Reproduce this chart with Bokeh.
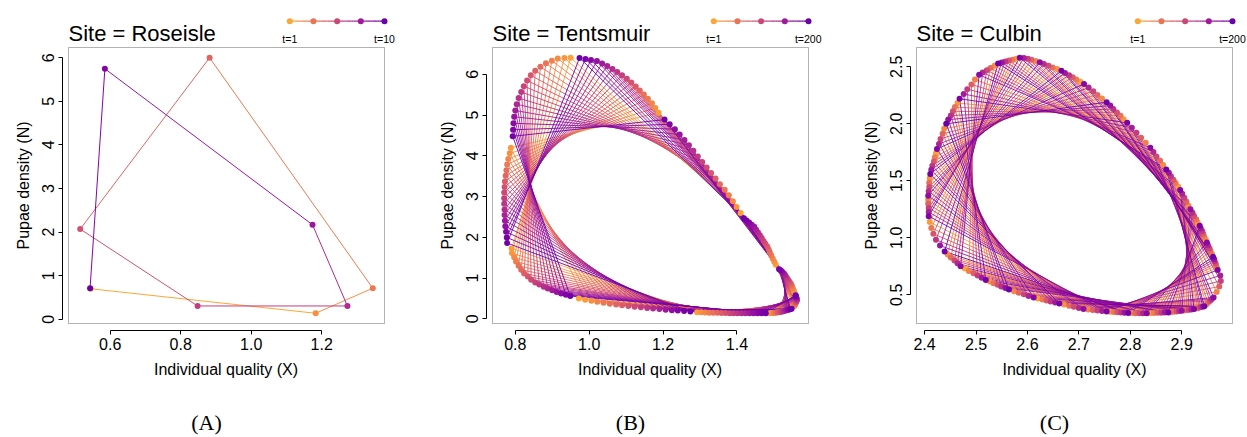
import numpy as np
from bokeh.plotting import figure
from bokeh.models import (Range1d, FixedTicker, NumeralTickFormatter, Title,
                          BoxAnnotation, ColumnDataSource)
from bokeh.layouts import row
from bokeh.palettes import Plasma256
from bokeh.embed import file_html
from bokeh.resources import INLINE
from bokeh.core.properties import value

# ---------------- Panel A : Roseisle (t = 1..10) ----------------
roseisle_t = [1, 2, 3, 4, 5, 6, 7, 8, 9, 10]
roseisle_x = [0.545, 1.183, 1.345, 0.882, 0.515, 0.848, 1.273, 1.174, 0.585, 0.543]
roseisle_y = [0.700, 0.138, 0.713, 6.000, 2.069, 0.306, 0.306, 2.168, 5.747, 0.713]

# ---------------- Panel B : Tentsmuir (t = 1..200) ----------------
# dots read along the cycle (counter-clockwise), with the time step of each dot
tents_x = [
    0.790, 0.791, 0.797, 0.802, 0.809, 0.816, 0.824, 0.834, 0.843, 0.854, 0.865, 0.877, 0.888, 0.900, 0.912, 0.924, 0.937, 0.949,
    0.972, 0.989, 1.006, 1.022, 1.039, 1.056, 1.073, 1.089, 1.106, 1.123, 1.140, 1.157, 1.173, 1.190, 1.207, 1.224, 1.240, 1.257, 1.274,
    1.292, 1.303, 1.314, 1.325, 1.336, 1.347, 1.358, 1.369, 1.380, 1.390, 1.401, 1.412, 1.423, 1.434, 1.445, 1.456, 1.467, 1.478,
    1.490, 1.493, 1.497, 1.500, 1.503, 1.507, 1.510, 1.513, 1.516, 1.520, 1.523, 1.526, 1.529, 1.532, 1.535, 1.538, 1.542, 1.545, 1.548,
    1.555, 1.556, 1.556, 1.557, 1.558, 1.559, 1.559, 1.560, 1.561, 1.562, 1.562, 1.562, 1.561, 1.561, 1.560, 1.560, 1.559, 1.559,
    1.556, 1.554, 1.552, 1.550, 1.549, 1.547, 1.545, 1.542, 1.540, 1.537, 1.535, 1.532, 1.530, 1.527, 1.524, 1.521, 1.518, 1.514,
    1.505, 1.501, 1.497, 1.493, 1.489, 1.486, 1.482, 1.477, 1.472, 1.467, 1.462, 1.457, 1.452, 1.447, 1.440, 1.433, 1.426, 1.419,
    1.410, 1.399, 1.389, 1.378, 1.367, 1.354, 1.342, 1.330, 1.318, 1.306, 1.294, 1.282, 1.270, 1.258, 1.245, 1.232, 1.218, 1.204,
    1.188, 1.179, 1.170, 1.159, 1.148, 1.137, 1.126, 1.114, 1.102, 1.089, 1.076, 1.063, 1.049, 1.035, 1.021, 1.005, 0.990, 0.974,
    0.950, 0.933, 0.915, 0.899, 0.883, 0.868, 0.854, 0.842, 0.832, 0.823, 0.816, 0.809, 0.804, 0.800, 0.797, 0.795, 0.794, 0.793,
    0.788, 0.785, 0.781, 0.778, 0.776, 0.774, 0.772, 0.771, 0.770, 0.770, 0.770, 0.771, 0.771, 0.772, 0.773, 0.775, 0.777, 0.778,
]
tents_y = [
    1.730, 1.614, 1.510, 1.406, 1.305, 1.209, 1.116, 1.038, 0.963, 0.894, 0.843, 0.792, 0.743, 0.703, 0.662, 0.624, 0.592, 0.560,
    0.500, 0.472, 0.445, 0.419, 0.396, 0.373, 0.352, 0.335, 0.317, 0.300, 0.285, 0.270, 0.256, 0.241, 0.227, 0.215, 0.205, 0.193, 0.180,
    0.165, 0.161, 0.157, 0.154, 0.150, 0.148, 0.146, 0.143, 0.141, 0.140, 0.139, 0.139, 0.138, 0.138, 0.139, 0.139, 0.140, 0.140,
    0.140, 0.144, 0.147, 0.151, 0.154, 0.158, 0.161, 0.165, 0.168, 0.174, 0.182, 0.191, 0.200, 0.208, 0.216, 0.225, 0.233, 0.242, 0.250,
    0.310, 0.326, 0.341, 0.357, 0.372, 0.388, 0.403, 0.419, 0.434, 0.450, 0.465, 0.482, 0.498, 0.515, 0.531, 0.547, 0.564, 0.580,
    0.650, 0.687, 0.725, 0.762, 0.799, 0.836, 0.873, 0.907, 0.943, 0.976, 1.011, 1.046, 1.079, 1.114, 1.141, 1.168, 1.193, 1.220,
    1.330, 1.404, 1.479, 1.554, 1.628, 1.703, 1.776, 1.846, 1.914, 1.984, 2.052, 2.122, 2.190, 2.260, 2.313, 2.366, 2.417, 2.470,
    2.600, 2.745, 2.889, 3.034, 3.172, 3.307, 3.443, 3.579, 3.714, 3.850, 3.987, 4.124, 4.260, 4.392, 4.524, 4.655, 4.775, 4.890,
    5.060, 5.177, 5.294, 5.401, 5.504, 5.605, 5.704, 5.798, 5.891, 5.981, 6.058, 6.135, 6.206, 6.268, 6.331, 6.356, 6.380, 6.405,
    6.409, 6.400, 6.391, 6.337, 6.272, 6.185, 6.088, 5.976, 5.849, 5.712, 5.568, 5.418, 5.269, 5.113, 4.960, 4.801, 4.641, 4.480,
    4.200, 4.062, 3.925, 3.787, 3.649, 3.512, 3.374, 3.237, 3.099, 2.961, 2.824, 2.686, 2.549, 2.411, 2.273, 2.136, 1.998, 1.860,
]
tents_t = [
    6, 17, 28, 39, 50, 61, 72, 83, 94, 105, 116, 127, 138, 149, 160, 171, 182, 193,
    1, 12, 23, 34, 45, 56, 67, 78, 89, 100, 111, 122, 133, 144, 155, 166, 177, 188, 199,
    7, 18, 29, 40, 51, 62, 73, 84, 95, 106, 117, 128, 139, 150, 161, 172, 183, 194,
    2, 13, 24, 35, 46, 57, 68, 79, 90, 101, 112, 123, 134, 145, 156, 167, 178, 189, 200,
    8, 19, 30, 41, 52, 63, 74, 85, 96, 107, 118, 129, 140, 151, 162, 173, 184, 195,
    3, 14, 25, 36, 47, 58, 69, 80, 91, 102, 113, 124, 135, 146, 157, 168, 179, 190,
    9, 20, 31, 42, 53, 64, 75, 86, 97, 108, 119, 130, 141, 152, 163, 174, 185, 196,
    4, 15, 26, 37, 48, 59, 70, 81, 92, 103, 114, 125, 136, 147, 158, 169, 180, 191,
    10, 21, 32, 43, 54, 65, 76, 87, 98, 109, 120, 131, 142, 153, 164, 175, 186, 197,
    5, 16, 27, 38, 49, 60, 71, 82, 93, 104, 115, 126, 137, 148, 159, 170, 181, 192,
    11, 22, 33, 44, 55, 66, 77, 88, 99, 110, 121, 132, 143, 154, 165, 176, 187, 198,
]

# ---------------- Panel C : Culbin (t = 1..200) ----------------
# dots read along the cycle (counter-clockwise from the top), with their time step
culbin_x = [
    2.616, 2.608, 2.601, 2.593, 2.585,
    2.578, 2.571, 2.564, 2.557, 2.550, 2.543,
    2.536, 2.528, 2.521, 2.513, 2.506,
    2.498, 2.491, 2.483, 2.476, 2.468,
    2.464, 2.459, 2.455, 2.451, 2.446, 2.442,
    2.438, 2.435, 2.431, 2.428, 2.424,
    2.422, 2.420, 2.418, 2.415, 2.413, 2.411,
    2.410, 2.409, 2.409, 2.408, 2.407,
    2.407, 2.407, 2.408, 2.408, 2.408,
    2.410, 2.413, 2.417, 2.422, 2.430, 2.439,
    2.445, 2.451, 2.458, 2.464, 2.470,
    2.478, 2.486, 2.495, 2.503, 2.511, 2.519,
    2.527, 2.534, 2.542, 2.549, 2.557, 2.564,
    2.574, 2.583, 2.593, 2.602, 2.612,
    2.620, 2.629, 2.637, 2.645, 2.654, 2.662,
    2.671, 2.681, 2.690, 2.700, 2.709,
    2.718, 2.727, 2.736, 2.745, 2.754,
    2.761, 2.768, 2.775, 2.782, 2.789, 2.796,
    2.803, 2.810, 2.818, 2.825, 2.832,
    2.839, 2.846, 2.853, 2.860, 2.867, 2.874,
    2.879, 2.884, 2.890, 2.895, 2.900,
    2.905, 2.910, 2.914, 2.919, 2.924,
    2.927, 2.931, 2.934, 2.937, 2.941, 2.944,
    2.948, 2.951, 2.955, 2.958, 2.962,
    2.968, 2.973, 2.976, 2.975, 2.970,
    2.969, 2.967, 2.966, 2.964, 2.963, 2.961,
    2.959, 2.956, 2.954, 2.951, 2.949,
    2.947, 2.944, 2.942, 2.940, 2.937, 2.935,
    2.931, 2.928, 2.924, 2.921, 2.917,
    2.913, 2.909, 2.905, 2.901, 2.897,
    2.893, 2.888, 2.884, 2.879, 2.875, 2.870,
    2.864, 2.858, 2.851, 2.845, 2.839,
    2.830, 2.821, 2.812, 2.803, 2.794,
    2.787, 2.781, 2.774, 2.767, 2.761, 2.754,
    2.745, 2.736, 2.728, 2.719, 2.710,
    2.703, 2.695, 2.688, 2.681, 2.673, 2.666,
    2.658, 2.649, 2.641, 2.632, 2.624,
]
culbin_y = [
    2.552, 2.563, 2.571, 2.577, 2.580,
    2.572, 2.563, 2.555, 2.547, 2.538, 2.530,
    2.510, 2.490, 2.470, 2.450, 2.430,
    2.388, 2.346, 2.304, 2.262, 2.220,
    2.183, 2.147, 2.110, 2.073, 2.037, 2.000,
    1.956, 1.912, 1.868, 1.824, 1.780,
    1.743, 1.707, 1.670, 1.633, 1.597, 1.560,
    1.522, 1.484, 1.446, 1.408, 1.370,
    1.334, 1.298, 1.262, 1.226, 1.190,
    1.138, 1.087, 1.035, 0.983, 0.932, 0.880,
    0.854, 0.828, 0.802, 0.776, 0.750,
    0.730, 0.710, 0.690, 0.670, 0.650, 0.630,
    0.616, 0.602, 0.588, 0.574, 0.560, 0.546,
    0.532, 0.518, 0.504, 0.490, 0.476,
    0.467, 0.459, 0.450, 0.441, 0.433, 0.424,
    0.414, 0.404, 0.395, 0.385, 0.375,
    0.371, 0.367, 0.362, 0.358, 0.354,
    0.352, 0.349, 0.347, 0.345, 0.342, 0.340,
    0.340, 0.339, 0.339, 0.338, 0.338,
    0.339, 0.340, 0.342, 0.343, 0.344, 0.345,
    0.348, 0.351, 0.354, 0.357, 0.360,
    0.363, 0.366, 0.369, 0.372, 0.375,
    0.379, 0.383, 0.388, 0.392, 0.396, 0.400,
    0.415, 0.430, 0.446, 0.461, 0.476,
    0.524, 0.572, 0.621, 0.669, 0.717,
    0.736, 0.756, 0.775, 0.794, 0.814, 0.833,
    0.858, 0.884, 0.909, 0.935, 0.960,
    0.984, 1.008, 1.033, 1.057, 1.081, 1.105,
    1.134, 1.163, 1.192, 1.221, 1.250,
    1.284, 1.318, 1.352, 1.386, 1.420,
    1.450, 1.480, 1.510, 1.540, 1.570, 1.600,
    1.638, 1.676, 1.714, 1.752, 1.790,
    1.834, 1.878, 1.922, 1.966, 2.010,
    2.040, 2.070, 2.100, 2.130, 2.160, 2.190,
    2.222, 2.254, 2.286, 2.318, 2.350,
    2.369, 2.388, 2.408, 2.427, 2.446, 2.465,
    2.480, 2.495, 2.510, 2.525, 2.540,
]
culbin_t = [
    32, 69, 106, 143, 180,
    9, 46, 83, 120, 157, 194,
    23, 60, 97, 134, 171,
    37, 74, 111, 148, 185,
    14, 51, 88, 125, 162, 199,
    28, 65, 102, 139, 176,
    5, 42, 79, 116, 153, 190,
    19, 56, 93, 130, 167,
    33, 70, 107, 144, 181,
    10, 47, 84, 121, 158, 195,
    24, 61, 98, 135, 172,
    1, 38, 75, 112, 149, 186,
    15, 52, 89, 126, 163, 200,
    29, 66, 103, 140, 177,
    6, 43, 80, 117, 154, 191,
    20, 57, 94, 131, 168,
    34, 71, 108, 145, 182,
    11, 48, 85, 122, 159, 196,
    25, 62, 99, 136, 173,
    2, 39, 76, 113, 150, 187,
    16, 53, 90, 127, 164,
    30, 67, 104, 141, 178,
    7, 44, 81, 118, 155, 192,
    21, 58, 95, 132, 169,
    35, 72, 109, 146, 183,
    12, 49, 86, 123, 160, 197,
    26, 63, 100, 137, 174,
    3, 40, 77, 114, 151, 188,
    17, 54, 91, 128, 165,
    31, 68, 105, 142, 179,
    8, 45, 82, 119, 156, 193,
    22, 59, 96, 133, 170,
    36, 73, 110, 147, 184,
    13, 50, 87, 124, 161, 198,
    27, 64, 101, 138, 175,
    4, 41, 78, 115, 152, 189,
    18, 55, 92, 129, 166,
]

# axis ticks
roseisle_xticks = [0.6, 0.8, 1.0, 1.2]
roseisle_yticks = [0, 1, 2, 3, 4, 5, 6]
tents_xticks = [0.8, 1.0, 1.2, 1.4]
tents_yticks = [0, 1, 2, 3, 4, 5, 6]
culbin_xticks = [2.4, 2.5, 2.6, 2.7, 2.8, 2.9]
culbin_yticks = [0.5, 1.0, 1.5, 2.0, 2.5]

# ---------------- layout / style ----------------
FONT = "Liberation Sans"
SERIF = "Liberation Serif"
FIG_H = 437
BOX_TOP, BOX_BOTTOM = 47, 323
BOX_W = 316
FRAME_TOP, FRAME_BOTTOM = 0, 330
AX_OFF = 6
LETTER_SHIFT = -20
NB = "\u00a0"
SERIF_W = {"(": 0.333, ")": 0.333, "A": 0.722, "B": 0.667, "C": 0.667}


def tcolor(frac):
    f = 0.80 - 0.60 * frac
    return Plasma256[int(round(f * 255))]


def panel(fig_left, fig_w, frame_right, title, xs, ys, ts, xticks, yticks,
          xfmt, yfmt, letter, lw, dot):
    box_left = fig_left + 68
    box_right = box_left + BOX_W
    frame_left = box_left - AX_OFF
    fig_right = fig_left + fig_w

    n = int(max(ts))
    order = np.argsort(np.asarray(ts), kind="stable")
    x = np.asarray(xs, float)[order]
    y = np.asarray(ys, float)[order]
    t = np.asarray(ts)[order]
    cols = [tcolor((k - 1) / (n - 1)) for k in t]

    pad = 0.04
    bx0 = x.min() - pad * (x.max() - x.min())
    bx1 = x.max() + pad * (x.max() - x.min())
    by0 = y.min() - pad * (y.max() - y.min())
    by1 = y.max() + pad * (y.max() - y.min())
    sx = BOX_W / (bx1 - bx0)
    sy = (BOX_BOTTOM - BOX_TOP) / (by1 - by0)

    def X(px):
        return bx0 + (px - box_left) / sx

    def Y(py):
        return by0 + (BOX_BOTTOM - py) / sy

    p = figure(width=fig_w, height=FIG_H,
               x_range=Range1d(X(frame_left), X(frame_right)),
               y_range=Range1d(Y(FRAME_BOTTOM), Y(FRAME_TOP)),
               min_border_left=frame_left - fig_left,
               min_border_right=fig_right - frame_right,
               min_border_top=FRAME_TOP,
               min_border_bottom=FIG_H - FRAME_BOTTOM,
               toolbar_location=None, output_backend="svg", title=None)
    p.outline_line_color = None
    p.xgrid.visible = False
    p.ygrid.visible = False
    p.background_fill_color = "white"
    p.border_fill_color = "white"

    for ax, ticks, fmt in ((p.xaxis[0], xticks, xfmt), (p.yaxis[0], yticks, yfmt)):
        ax.ticker = FixedTicker(ticks=ticks, minor_ticks=[])
        ax.bounds = (ticks[0], ticks[-1])
        ax.formatter = NumeralTickFormatter(format=fmt)
        ax.axis_line_color = "black"
        ax.axis_line_width = 1
        ax.major_tick_line_color = "black"
        ax.major_tick_out = 4
        ax.major_tick_in = 0
        ax.minor_tick_line_color = None
        ax.major_label_text_font = FONT
        ax.major_label_text_font_size = "16px"
        ax.major_label_text_color = "black"
        ax.axis_label_text_font = FONT
        ax.axis_label_text_font_size = "16px"
        ax.axis_label_text_font_style = "normal"
        ax.axis_label_text_color = "black"
    p.xaxis.major_label_standoff = 3
    p.yaxis.major_label_standoff = 4
    p.yaxis.major_label_orientation = "vertical"
    # axis titles (trailing no-break spaces re-centre them on the plot box)
    p.yaxis.axis_label = "Pupae density (N)" + NB * 9
    p.yaxis.axis_label_standoff = 8
    p.xaxis.axis_label = "Individual quality (X)" + NB * 2
    p.xaxis.axis_label_standoff = 8

    # panel letter under the axis title (a thin spacer title pushes it down)
    p.add_layout(Title(text=NB, text_font_size="1px", standoff=22), "below")
    lw_px = 22 * sum(SERIF_W.get(ch, 0.6) for ch in letter)
    off = (box_left + BOX_W / 2 + LETTER_SHIFT) - frame_left - lw_px / 2
    p.add_layout(Title(text=letter, align="left", offset=off, text_font=SERIF,
                       text_font_size="22px", text_font_style="normal",
                       text_color="black", standoff=4, vertical_align="bottom"), "below")

    # plot box
    p.add_layout(BoxAnnotation(left=bx0, right=bx1, bottom=by0, top=by1,
                               fill_color=None, line_color="black", line_width=1))

    # trajectory
    seg = ColumnDataSource(dict(x0=x[:-1], y0=y[:-1], x1=x[1:], y1=y[1:], c=cols[:-1]))
    p.segment("x0", "y0", "x1", "y1", source=seg, line_color="c", line_width=lw)
    p.scatter(x=x, y=y, size=dot, fill_color=cols, line_color=None)

    # title
    p.text(x=[X(box_left)], y=[Y(32.7)], text=[title], text_font=value(FONT),
           text_font_size="22px", text_align="left", text_baseline="alphabetic",
           text_color="black")

    # time legend
    lx0 = box_right - 94.7
    lstep = 23.67
    ly = Y(20.7)
    K = 40
    gx0 = [X(lx0 + 4 * lstep * i / K) for i in range(K)]
    gx1 = [X(lx0 + 4 * lstep * (i + 1) / K) for i in range(K)]
    gc = [tcolor((i + 0.5) / K) for i in range(K)]
    p.segment(x0=gx0, y0=[ly] * K, x1=gx1, y1=[ly] * K, line_color=gc, line_width=1.3)
    p.scatter(x=[X(lx0 + lstep * k) for k in range(5)], y=[ly] * 5, size=6,
              fill_color=[tcolor(k / 4) for k in range(5)], line_color=None)
    last_txt = "t=%d" % n
    p.text(x=[X(lx0)], y=[Y(38.7)], text=["t=1"], text_font=value(FONT),
           text_font_size="10.5px", text_align="center", text_baseline="alphabetic",
           text_color="black")
    last_x = lx0 + 4 * lstep
    half = 0.5 * 10.5 * (0.278 + 0.584 + 0.556 * (len(last_txt) - 2))
    if last_x + half > frame_right - 1:
        p.text(x=[X(frame_right - 1)], y=[Y(38.7)], text=[last_txt], text_font=value(FONT),
               text_font_size="10.5px", text_align="right", text_baseline="alphabetic",
               text_color="black")
    else:
        p.text(x=[X(last_x)], y=[Y(38.7)], text=[last_txt], text_font=value(FONT),
               text_font_size="10.5px", text_align="center", text_baseline="alphabetic",
               text_color="black")
    return p


pA = panel(0, 424, 398, "Site = Roseisle", roseisle_x, roseisle_y, roseisle_t,
           roseisle_xticks, roseisle_yticks, "0.0", "0", "(A)", 1.0, 6)
pB = panel(424, 424, 822, "Site = Tentsmuir", tents_x, tents_y, tents_t,
           tents_xticks, tents_yticks, "0.0", "0", "(B)", 0.9, 6)
pC = panel(848, 399, 1247, "Site = Culbin", culbin_x, culbin_y, culbin_t,
           culbin_xticks, culbin_yticks, "0.0", "0.0", "(C)", 0.9, 6)

layout = row(pA, pB, pC)
open("out.html", "w").write(file_html(layout, INLINE))
